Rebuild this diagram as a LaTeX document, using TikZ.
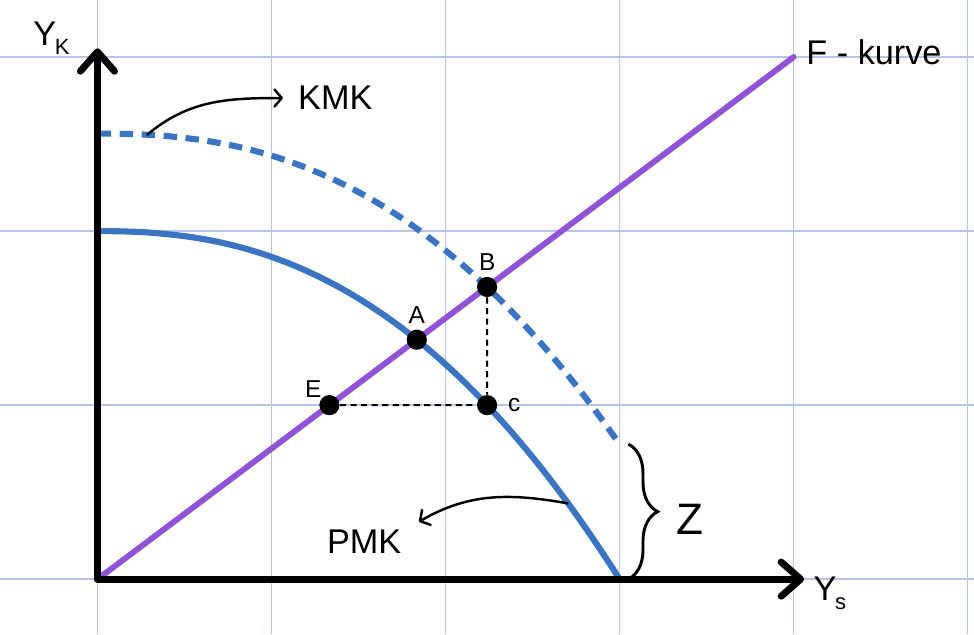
\documentclass[tikz,border=0pt]{standalone}
\usepackage{fontspec}
\setmainfont{Liberation Sans}
\usetikzlibrary{arrows.meta,positioning,decorations.pathreplacing}
\definecolor{gridBlue}{RGB}{182,197,230}
\definecolor{curveBlue}{RGB}{58,116,194}
\definecolor{linePurple}{RGB}{146,84,214}
\newcommand{\axisSub}[2]{#1\kern-0.5pt\raisebox{-4pt}{\fontsize{9}{9}\selectfont #2}}

\begin{document}
\begin{tikzpicture}
[gridDecorate/.style={draw=gridBlue,line width=0.6pt},%
  axisDecorate/.style={line width=2.8pt,line cap=round,-{Straight Barb[length=8pt,width=14pt,round]}},
  curveDecorate/.style={draw=curveBlue,line width=2.5pt},
  kmkDecorate/.style={curveDecorate,dash pattern=on 5.5pt off 3.5pt},
  lineDecorate/.style={draw=linePurple,line width=2.4pt,line cap=round},
  guideDecorate/.style={line width=0.8pt,dash pattern=on 2.5pt off 1.8pt},
  arrowDecorate/.style={line width=1pt,-{Straight Barb[length=3pt,width=7pt,round]}},
  braceDecorate/.style={line width=1.2pt,decorate,decoration={brace,amplitude=12pt}},
  nodeDecorate/.style={shape=circle,fill,inner sep=0pt,minimum size=0.29cm},
  textDecorate/.style={inner sep=0pt,font=\fontsize{14}{16}\selectfont},
  pointDecorate/.style={inner sep=0pt,font=\fontsize{10}{12}\selectfont},
  scale=2.5]
\useasboundingbox (-0.56,-0.316) rectangle (5.037,3.328);
\fill[white] (-0.56,-0.316) rectangle (5.037,3.328);
%% grid
\foreach \gx in {0,...,5}
  \draw[gridDecorate] (\gx,-0.316) -- (\gx,3.328);
\foreach \gy in {0,...,3}
  \draw[gridDecorate] (-0.56,\gy) -- (5.037,\gy);
%% coordinates
\coordinate (origin) at (0,0);
\coordinate (yTip) at (0,3.05);
\coordinate (xTip) at (4.06,0);
\coordinate (fEnd) at (4,3);
\coordinate (kmkStart) at (0.284,2.552);
\coordinate (kmkTip) at (1.066,2.764);
\coordinate (pmkStart) at (2.705,0.435);
\coordinate (pmkTip) at (1.847,0.33);
\coordinate (zTop) at (3.05,0.776);
\coordinate (zBottom) at (3.05,0);
%% curves
\draw[kmkDecorate] plot[domain=0.001:3,samples=80] (\x,{2.56*(1-(\x/3.485)^2.41)});
\draw[curveDecorate] plot[domain=0.001:3,samples=80] (\x,{2*(1-(\x/3)^2.37)});
\draw[lineDecorate] (origin) -- (fEnd);
%% axes
\draw[axisDecorate] (origin) -- (yTip);
\draw[axisDecorate] (origin) -- (xTip);
%% points
\foreach \nodename/\x/\y in {
  A/1.835/1.376,
  B/2.239/1.679,
  C/2.239/1.0,
  E/1.333/1.0}
{
  \node (\nodename) at (\x,\y) [nodeDecorate] {};
}
\draw[guideDecorate] (E) -- (C);
\draw[guideDecorate] (B) -- (C);
%% labels
\node[pointDecorate, above=2pt of A] {A};
\node[pointDecorate, above=2pt of B] {B};
\node[pointDecorate, right=4pt of C] {c};
\node[pointDecorate, above left=0pt and 0pt of E] {E};
\node[textDecorate, right=5pt of fEnd, yshift=2pt] (Fkurve) {F - kurve};
\node[textDecorate, right=6pt of kmkTip] (KMK) {KMK};
\node[textDecorate, below left=3pt and 7pt of pmkTip] (PMK) {PMK};
\node[textDecorate, anchor=base west] (Yk) at (-0.371,3.069) {\axisSub{Y}{K}};
\node[textDecorate, anchor=base west] (Ys) at (4.112,-0.121) {\axisSub{Y}{s}};
\node[inner sep=0pt, font=\fontsize{18}{20}\selectfont] (Z) at (3.405,0.345) {Z};
%% callouts
\draw[arrowDecorate] (kmkStart) to[out=40,in=180] (kmkTip);
\draw[arrowDecorate] (pmkStart) to[out=170,in=30] (pmkTip);
\draw[braceDecorate] (zTop) -- (zBottom);
\end{tikzpicture}
\end{document}
